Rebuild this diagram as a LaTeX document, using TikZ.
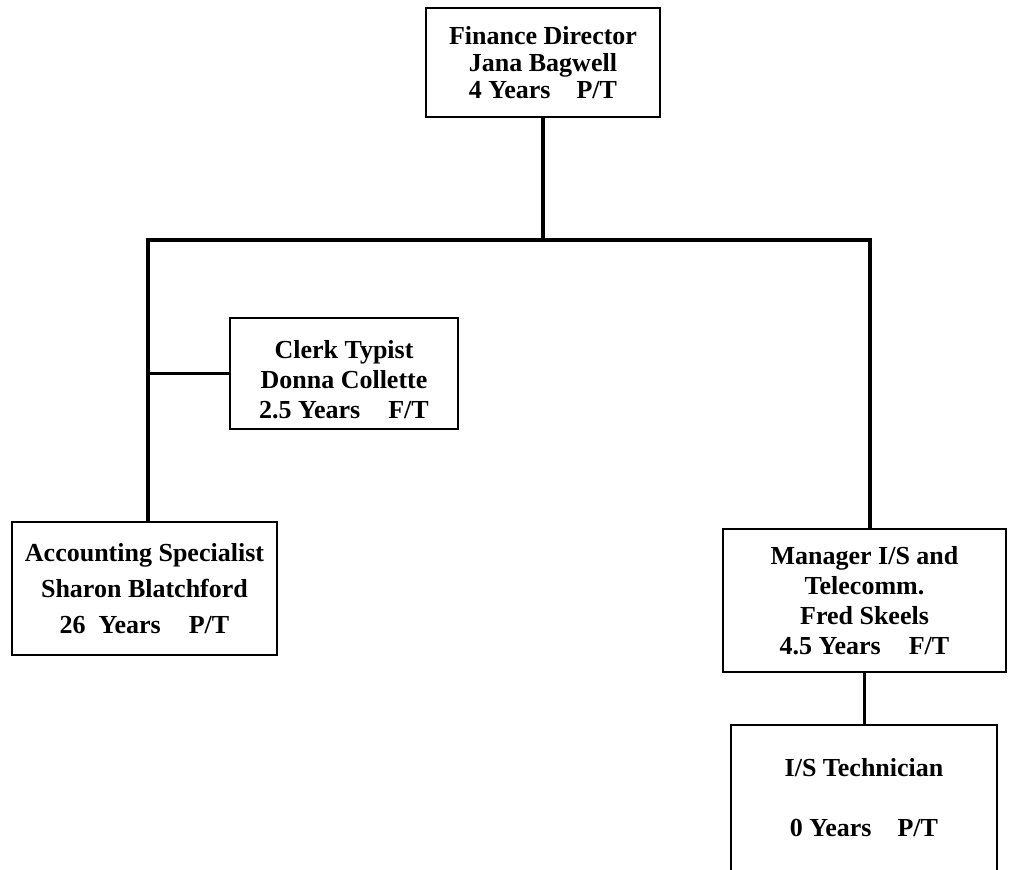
\documentclass[tikz,border=0pt]{standalone}
\usepackage{fontspec}
\setmainfont{Liberation Serif}
\begin{document}
\begin{tikzpicture}[x=1pt,y=-1pt,
  box/.style={draw, line width=2.6pt, inner sep=0pt, align=center},
  fs/.style={font=\bfseries\fontsize{26}{#1}\selectfont},
  txt/.style={inner sep=0pt, align=center},
  conn/.style={line width=3.4pt, line cap=rect}]
\useasboundingbox (0,0) rectangle (1016,869);
\fill[white] (0,0) rectangle (1016,869);

\node[box, fs=27, minimum width=234pt, minimum height=109pt] (fin) at (543,62.5)
  {Finance Director\\Jana Bagwell\\4 Years\hspace{26pt}P/T};
\node[box, fs=30, minimum width=228pt, minimum height=111pt] (clerk) at (344,373.5)
  {\rule{0pt}{31pt}Clerk Typist\\Donna Collette\\2.5 Years\hspace{28pt}F/T};
\node[box, fs=36, minimum width=265pt, minimum height=133pt] (acc) at (144.5,588.5)
  {Accounting Specialist\\Sharon Blatchford\\26\ \ Years\hspace{28pt}P/T};
\node[box, fs=30, minimum width=283pt, minimum height=143pt] (mgr) at (864.5,600.5)
  {Manager I/S and\\Telecomm.\\Fred Skeels\\4.5 Years\hspace{28pt}F/T};
\node[box, minimum width=266pt, minimum height=165pt] (ist) at (864,807.5) {};
\node[txt, fs=30] (istx) at (864,798) {I/S Technician\\[30pt]0 Years\hspace{26pt}P/T};

\coordinate (busL) at (148,240);
\coordinate (busR) at (870,240);
\draw[conn] (fin.south) -- (fin.south |- busL);
\draw[conn] (acc.north -| busL) -- (busL) -- (busR) -- (mgr.north -| busR);
\draw[conn] (busL |- clerk.west) -- (clerk.west);
\draw[conn] (mgr.south) -- (mgr.south |- ist.north);
\end{tikzpicture}
\end{document}
